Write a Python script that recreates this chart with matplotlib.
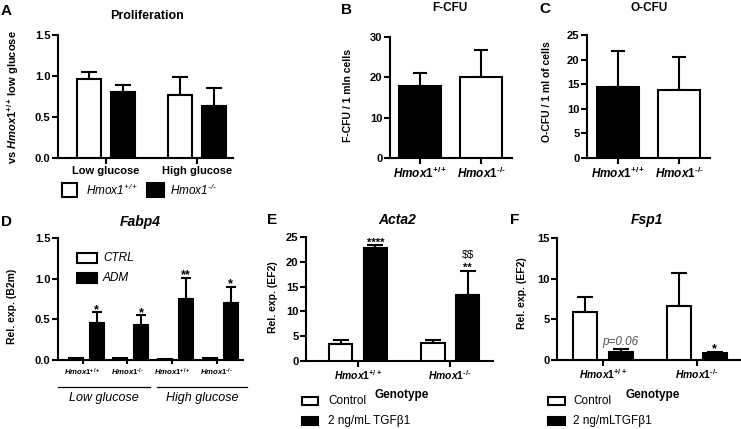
import matplotlib
matplotlib.use('Agg')
import matplotlib.pyplot as plt
from matplotlib.patches import Rectangle
from matplotlib.lines import Line2D
import numpy as np

W, H = 741, 429
plt.rcParams['font.family'] = ['Liberation Sans', 'DejaVu Sans']
plt.rcParams['font.weight'] = 'bold'
plt.rcParams['mathtext.fontset'] = 'custom'
plt.rcParams['mathtext.rm'] = 'Liberation Sans:weight=bold'
plt.rcParams['mathtext.it'] = 'Liberation Sans:style=italic:weight=bold'
plt.rcParams['mathtext.bf'] = 'Liberation Sans:weight=bold'
plt.rcParams['mathtext.sf'] = 'Liberation Sans:style=italic:weight=normal'

# ---------------- data ----------------
prolif_groups = ['Low glucose', 'High glucose']
prolif_wt = [0.96, 0.77]
prolif_wt_err = [0.09, 0.22]
prolif_ko = [0.80, 0.63]
prolif_ko_err = [0.09, 0.22]

fcfu_vals = [17.9, 20.2]
fcfu_err = [3.1, 6.6]
ocfu_vals = [14.4, 13.9]
ocfu_err = [7.4, 6.6]

fabp4_ctrl = [0.02, 0.03, 0.01, 0.02]
fabp4_adm = [0.45, 0.43, 0.75, 0.70]
fabp4_adm_err = [0.14, 0.12, 0.26, 0.20]
fabp4_stars = ['*', '*', '**', '*']
fabp4_glucose = ['Low glucose', 'High glucose']

acta2_ctrl = [3.4, 3.6]
acta2_ctrl_err = [0.9, 0.7]
acta2_tgf = [22.8, 13.3]
acta2_tgf_err = [0.5, 4.9]
acta2_stars = ['****', '**']

fsp1_ctrl = [5.9, 6.6]
fsp1_ctrl_err = [1.8, 4.1]
fsp1_tgf = [1.0, 0.8]
fsp1_tgf_err = [0.3, 0.22]

HY = '\u2010'
WT_BI = r'$\mathit{Hmox1}^{\mathit{+/+}}$'
KO_BI = r'$\mathit{Hmox1}^{\mathit{' + HY + '/' + HY + '}}$'
WT_I = r'$\mathsf{Hmox1}^{\mathsf{+/+}}$'
KO_I = r'$\mathsf{Hmox1}^{\mathsf{' + HY + '/' + HY + '}}$'
genotypes = [WT_BI, KO_BI]

fig = plt.figure(figsize=(W / 100, H / 100), dpi=100)


def px_axes(x0, x1, ytop, ybot):
    return fig.add_axes([x0 / W, 1 - ybot / H, (x1 - x0) / W, (ybot - ytop) / H])


def ftext(x, y, s, **kw):
    kw.setdefault('ha', 'center')
    kw.setdefault('va', 'center')
    return fig.text(x / W, 1 - y / H, s, **kw)


def fbox(x0, y0, x1, y1, fc):
    fig.patches.append(Rectangle((x0 / W, 1 - y1 / H), (x1 - x0) / W, (y1 - y0) / H,
                                 transform=fig.transFigure, fc=fc, ec='black', lw=1.5,
                                 figure=fig))


def fline(x0, x1, y):
    fig.lines.append(Line2D([x0 / W, x1 / W], [1 - y / H, 1 - y / H],
                            transform=fig.transFigure, color='black', lw=0.9))


def style(ax, ylim, yticks, ylabels, xlim, ylab_size=8):
    for s in ['top', 'right']:
        ax.spines[s].set_visible(False)
    for s in ['left', 'bottom']:
        ax.spines[s].set_linewidth(1.5)
    ax.set_ylim(*ylim)
    ax.set_xlim(*xlim)
    ax.set_yticks(yticks)
    ax.set_yticklabels(ylabels)
    ax.tick_params(direction='out', length=4, width=1.5, labelsize=ylab_size, pad=1.5)
    ax.patch.set_alpha(0)


def bars(ax, x, vals, errs, fc, width, cap):
    ax.bar(x, vals, width=width, color=fc, edgecolor='black', linewidth=1.5, zorder=3)
    if errs is not None:
        ax.errorbar(x, vals, yerr=[np.zeros(len(errs)), errs], fmt='none', ecolor='black',
                    elinewidth=1.5, capsize=cap, capthick=1.5, zorder=2, clip_on=False)


def mark(ax, xi, y, s, dy, size, weight='bold'):
    ax.annotate(s, (xi, y), xytext=(0, dy), textcoords='offset points',
                ha='center', va='baseline', fontsize=size, weight=weight,
                annotation_clip=False)


# ---------------- Panel A ----------------
ax = px_axes(58, 233, 35, 158)
x = np.arange(len(prolif_groups))
bars(ax, x - 0.19, prolif_wt, prolif_wt_err, 'white', 0.265, 6)
bars(ax, x + 0.19, prolif_ko, prolif_ko_err, 'black', 0.265, 6)
style(ax, (0, 1.5), [0, 0.5, 1.0, 1.5], ['0.0', '0.5', '1.0', '1.5'], (-0.527, 1.396))
ax.set_xticks(x)
ax.set_xticklabels(prolif_groups, fontsize=8)
ftext(6, 11, 'A', fontsize=11)
ftext(147, 16, 'Proliferation', fontsize=9)
ftext(13, 97, r'vs $\mathit{Hmox1}^{\mathit{+/+}}\,$low glucose', fontsize=8, rotation=90)
fbox(62, 183, 77, 197, 'white')
ftext(86, 190, WT_I, fontsize=8.5, ha='left')
fbox(147, 183, 164, 197, 'black')
ftext(170, 190, KO_I, fontsize=8.5, ha='left')

# ---------------- Panel B ----------------
ax = px_axes(390, 512, 37, 158)
x = np.arange(2)
bars(ax, x, fcfu_vals, fcfu_err, ['black', 'white'], 0.7, 5)
style(ax, (0, 30), [0, 10, 20, 30], ['0', '10', '20', '30'], (-0.49, 1.51))
ax.set_xticks(x)
ax.set_xticklabels(genotypes, fontsize=8.5)
ftext(346, 10, 'B', fontsize=11)
ftext(450, 8, 'F-CFU', fontsize=8.5)
ftext(348, 96, 'F-CFU / 1 mln cells', fontsize=7.5, rotation=90)

# ---------------- Panel C ----------------
ax = px_axes(587, 710, 35, 158)
bars(ax, x, ocfu_vals, ocfu_err, ['black', 'white'], 0.7, 5)
style(ax, (0, 25), [0, 5, 10, 15, 20, 25], ['0', '5', '10', '15', '20', '25'], (-0.51, 1.51))
ax.set_xticks(x)
ax.set_xticklabels(genotypes, fontsize=8.5)
ftext(545, 9, 'C', fontsize=11)
ftext(649, 8, 'O-CFU', fontsize=8.5)
ftext(547, 92, 'O-CFU / 1 ml of cells', fontsize=7.5, rotation=90)

# ---------------- Panel D ----------------
ax = px_axes(58, 243, 238, 360)
x = np.arange(len(fabp4_adm))
bars(ax, x - 0.235, fabp4_ctrl, None, 'white', 0.31, 3)
bars(ax, x + 0.235, fabp4_adm, fabp4_adm_err, 'black', 0.31, 3.5)
style(ax, (0, 1.5), [0, 0.5, 1.0, 1.5], ['0.0', '0.5', '1.0', '1.5'], (-0.63, 3.51))
ax.set_xticks(x - 0.08)
ax.set_xticklabels([WT_BI, KO_BI, WT_BI, KO_BI], fontsize=5.6)
ax.tick_params(axis='x', length=3, pad=2)
for xi, v, e, s in zip(x + 0.235, fabp4_adm, fabp4_adm_err, fabp4_stars):
    mark(ax, xi, v + e, s, -0.5, 9)
ftext(6, 222, 'D', fontsize=11)
ftext(140, 222, 'Fabp4', fontsize=10, style='italic')
ftext(12, 306, 'Rel. exp. (B2m)', fontsize=7.5, rotation=90)
fbox(77, 253, 97, 263, 'white')
ftext(103, 258, 'CTRL', fontsize=8.5, ha='left', style='italic', weight='normal')
fbox(77, 273, 97, 283, 'black')
ftext(103, 278, 'ADM', fontsize=8.5, ha='left', style='italic', weight='normal')
fline(58, 150, 387)
fline(157, 247, 387)
ftext(104, 398, fabp4_glucose[0], fontsize=9, style='italic', weight='normal')
ftext(202, 398, fabp4_glucose[1], fontsize=9, style='italic', weight='normal')

# ---------------- Panel E ----------------
ax = px_axes(306, 493, 237, 361)
x = np.arange(2)
bars(ax, x - 0.19, acta2_ctrl, acta2_ctrl_err, 'white', 0.26, 5.5)
bars(ax, x + 0.19, acta2_tgf, acta2_tgf_err, 'black', 0.26, 5.5)
style(ax, (0, 25), [0, 5, 10, 15, 20, 25], ['0', '5', '10', '15', '20', '25'], (-0.565, 1.467))
ax.set_xticks(x)
ax.set_xticklabels(genotypes, fontsize=7.5)
for xi, v, e, s in zip(x + 0.19, acta2_tgf, acta2_tgf_err, acta2_stars):
    mark(ax, xi, v + e, s, 0.0, 8)
mark(ax, 1 + 0.19, acta2_tgf[1] + acta2_tgf_err[1], r'\$\$', 9.0, 8, weight='normal')
ftext(272, 220, 'E', fontsize=11)
ftext(397, 220, 'Acta2', fontsize=10, style='italic')
ftext(273, 297, 'Rel. exp. (EF2)', fontsize=7.5, rotation=90)
ftext(402, 395, 'Genotype', fontsize=8.5)
fbox(302, 397, 318, 405, 'white')
ftext(328, 401, 'Control', fontsize=8.5, ha='left', weight='normal')
fbox(302, 417, 318, 425, 'black')
ftext(328, 421, '2 ng/mL TGFβ1', fontsize=8.5, ha='left', weight='normal')

# ---------------- Panel F ----------------
ax = px_axes(557, 741, 238, 360)
bars(ax, x - 0.19, fsp1_ctrl, fsp1_ctrl_err, 'white', 0.26, 5.5)
bars(ax, x + 0.19, fsp1_tgf, fsp1_tgf_err, 'black', 0.26, 5.5)
style(ax, (0, 15), [0, 5, 10, 15], ['0', '5', '10', '15'], (-0.49, 1.47))
ax.set_xticks(x)
ax.set_xticklabels(genotypes, fontsize=7.5)
ax.annotate('p=0.06', (0.19, fsp1_tgf[0] + fsp1_tgf_err[0]), xytext=(0, 1),
            textcoords='offset points', ha='center', va='bottom', fontsize=8.5,
            style='italic', weight='normal', color='#555555')
mark(ax, 1.19, fsp1_tgf[1] + fsp1_tgf_err[1], '*', -0.5, 9)
ftext(515, 220, 'F', fontsize=11)
ftext(647, 220, 'Fsp1', fontsize=10, style='italic')
ftext(522, 293, 'Rel. exp. (EF2)', fontsize=7.5, rotation=90)
ftext(653, 395, 'Genotype', fontsize=8.5)
fbox(548, 397, 565, 405, 'white')
ftext(573, 401, 'Control', fontsize=8.5, ha='left', weight='normal')
fbox(548, 417, 565, 425, 'black')
ftext(573, 421, '2 ng/mLTGFβ1', fontsize=8.5, ha='left', weight='normal')

fig.savefig('out.png', dpi=100)
